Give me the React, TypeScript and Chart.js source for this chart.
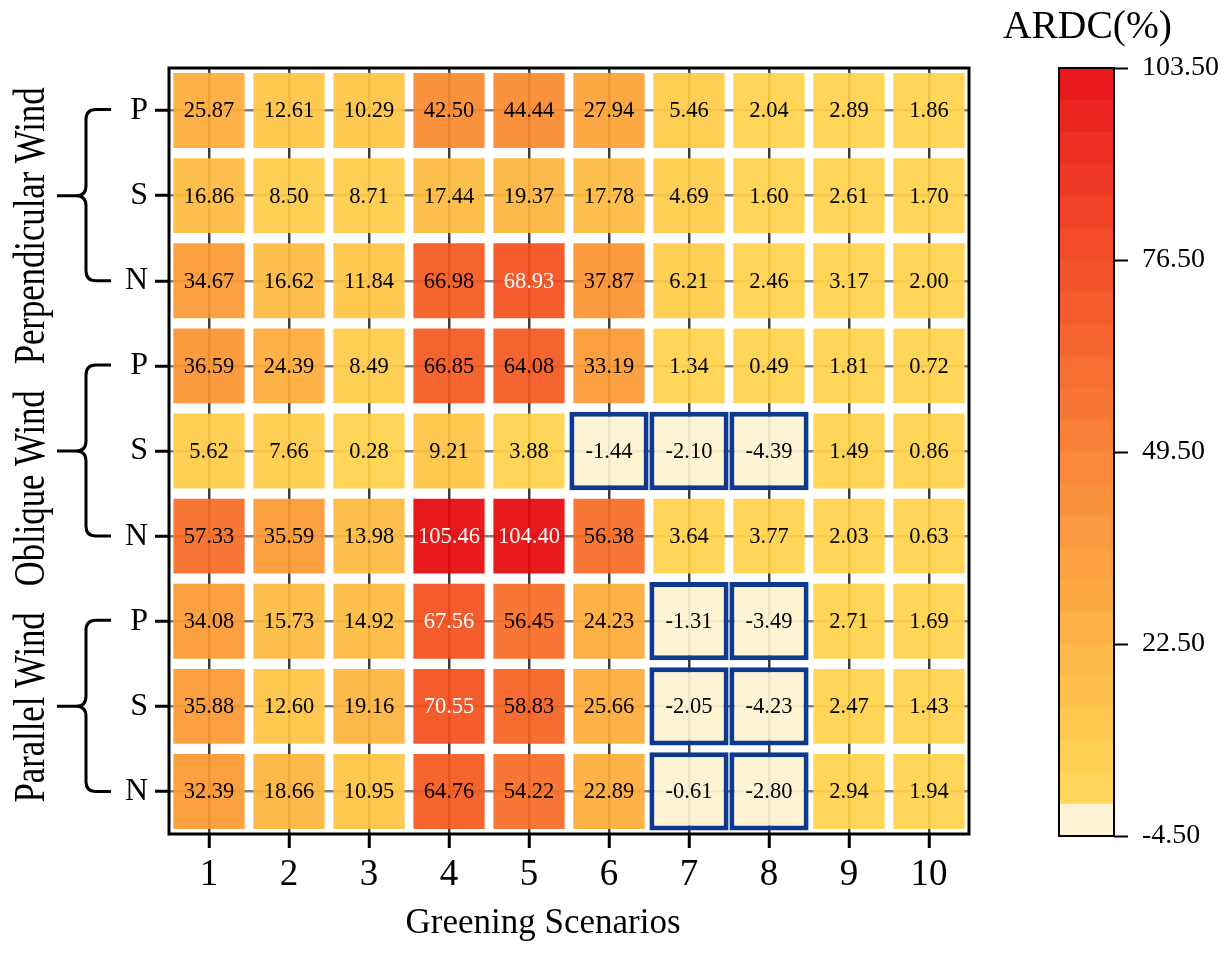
import React, { useEffect, useRef } from "react";
import { Chart, registerables } from "chart.js";
Chart.register(...registerables);

// ---------------- data ----------------
const SCENARIOS = ["1", "2", "3", "4", "5", "6", "7", "8", "9", "10"];
const ROW_LABELS = ["P", "S", "N", "P", "S", "N", "P", "S", "N"];
const GROUP_TITLES = ["Perpendicular Wind", "Oblique Wind", "Parallel Wind"];

const PERP_P = [25.87, 12.61, 10.29, 42.5, 44.44, 27.94, 5.46, 2.04, 2.89, 1.86];
const PERP_S = [16.86, 8.5, 8.71, 17.44, 19.37, 17.78, 4.69, 1.6, 2.61, 1.7];
const PERP_N = [34.67, 16.62, 11.84, 66.98, 68.93, 37.87, 6.21, 2.46, 3.17, 2.0];
const OBL_P = [36.59, 24.39, 8.49, 66.85, 64.08, 33.19, 1.34, 0.49, 1.81, 0.72];
const OBL_S = [5.62, 7.66, 0.28, 9.21, 3.88, -1.44, -2.1, -4.39, 1.49, 0.86];
const OBL_N = [57.33, 35.59, 13.98, 105.46, 104.4, 56.38, 3.64, 3.77, 2.03, 0.63];
const PAR_P = [34.08, 15.73, 14.92, 67.56, 56.45, 24.23, -1.31, -3.49, 2.71, 1.69];
const PAR_S = [35.88, 12.6, 19.16, 70.55, 58.83, 25.66, -2.05, -4.23, 2.47, 1.43];
const PAR_N = [32.39, 18.66, 10.95, 64.76, 54.22, 22.89, -0.61, -2.8, 2.94, 1.94];

const CB_MIN = -4.5;
const CB_MAX = 103.5;
const CB_STEP = 4.5;
const CB_TICKS = [-4.5, 22.5, 49.5, 76.5, 103.5];
const WHITE_TEXT_FROM = 67.5;

// ---------------- styles ----------------
const FONT = "'Liberation Serif', 'DejaVu Serif', serif";
const STOP_VALUES = [0, 22.5, 45, 67.5, 90, 103.5];
const STOP_COLORS = ["#FFDA5A", "#FDB548", "#FA8E3C", "#F5602E", "#EE3524", "#E8141D"];
const CREAM = "#FFF3D6";
const HIGHLIGHT = "#0D3A8E";
const CELL_ALPHA = 0.92;

function hexToRgb(h: string) {
  const n = parseInt(h.slice(1), 16);
  return [(n >> 16) & 255, (n >> 8) & 255, n & 255];
}
function interpColor(v: number): number[] {
  if (v <= STOP_VALUES[0]) return hexToRgb(STOP_COLORS[0]);
  for (let i = 1; i < STOP_VALUES.length; i++) {
    if (v <= STOP_VALUES[i]) {
      const t = (v - STOP_VALUES[i - 1]) / (STOP_VALUES[i] - STOP_VALUES[i - 1]);
      const a = hexToRgb(STOP_COLORS[i - 1]);
      const b = hexToRgb(STOP_COLORS[i]);
      return a.map((c, j) => c + (b[j] - c) * t);
    }
  }
  return hexToRgb(STOP_COLORS[STOP_COLORS.length - 1]);
}
const NBANDS = Math.round((CB_MAX - CB_MIN) / CB_STEP);
function bandIndex(v: number) {
  const k = Math.floor((v - CB_MIN) / CB_STEP);
  return Math.max(0, Math.min(NBANDS - 1, k));
}
function bandRgb(k: number): number[] {
  if (k === 0) return hexToRgb(CREAM);
  const mid = CB_MIN + k * CB_STEP + CB_STEP / 2;
  return interpColor(mid);
}
function rgbStr(c: number[]) {
  return `rgb(${c.map((x) => Math.round(x)).join(",")})`;
}
function alphaStr(c: number[]) {
  const pre = c.map((x) => Math.max(0, Math.min(255, (x - 255 * (1 - CELL_ALPHA)) / CELL_ALPHA)));
  return `rgba(${pre.map((x) => Math.round(x)).join(",")},${CELL_ALPHA})`;
}

const ROWS = [PERP_P, PERP_S, PERP_N, OBL_P, OBL_S, OBL_N, PAR_P, PAR_S, PAR_N];

function HeatMap() {
  const ref = useRef<HTMLCanvasElement>(null);
  useEffect(() => {
    const canvas = ref.current!;
    const highlightSets = ROWS.map((vals, r) => ({
      label: "hl" + r,
      data: vals.map((v) => (v < 0 ? [r - 0.46, r + 0.46] : null)),
      backgroundColor: alphaStr(hexToRgb(CREAM)),
      borderColor: HIGHLIGHT,
      borderWidth: 5,
      borderSkipped: false,
      barPercentage: 0.99,
      categoryPercentage: 1,
      grouped: false,
      order: 0,
    }));
    const cellSets = ROWS.map((vals, r) => ({
      label: "row" + r,
      data: vals.map((v) => (v < 0 ? null : [r - 0.44, r + 0.44])),
      backgroundColor: vals.map((v) => alphaStr(bandRgb(bandIndex(v)))),
      borderWidth: 0,
      barPercentage: 0.89,
      categoryPercentage: 1,
      grouped: false,
      order: 1,
    }));

    const decor = {
      id: "decor",
      afterDatasetsDraw(chart: any) {
        const ctx = chart.ctx;
        ctx.save();
        ctx.font = `22.5px ${FONT}`;
        ctx.textAlign = "center";
        ctx.textBaseline = "middle";
        ROWS.forEach((vals, r) => {
          const metaCell = chart.getDatasetMeta(highlightSets.length + r);
          const metaHl = chart.getDatasetMeta(r);
          vals.forEach((v, c) => {
            const el = v < 0 ? metaHl.data[c] : metaCell.data[c];
            if (!el) return;
            const y = (el.y + el.base) / 2;
            ctx.fillStyle = v >= WHITE_TEXT_FROM ? "#ffffff" : "#000000";
            ctx.fillText(v.toFixed(2), el.x, y + 1);
          });
        });
        ctx.restore();
      },
      afterDraw(chart: any) {
        const ctx = chart.ctx;
        const a = chart.chartArea;
        const ys = chart.scales.y;
        ctx.save();
        // frame
        ctx.strokeStyle = "#000";
        ctx.lineWidth = 3;
        ctx.strokeRect(a.left, a.top, a.right - a.left, a.bottom - a.top);
        // braces
        ctx.lineWidth = 3;
        ctx.lineCap = "butt";
        const xr = 111, xv = 86, xt = 57, rr = 10;
        for (let g = 0; g < GROUP_TITLES.length; g++) {
          const yt = ys.getPixelForValue(g * 3) - 1;
          const ym = ys.getPixelForValue(g * 3 + 1);
          const yb = ys.getPixelForValue(g * 3 + 2);
          ctx.beginPath();
          ctx.moveTo(xr, yt);
          ctx.lineTo(xv + rr, yt);
          ctx.quadraticCurveTo(xv, yt, xv, yt + rr);
          ctx.lineTo(xv, ym - rr);
          ctx.quadraticCurveTo(xv, ym, xv - rr, ym);
          ctx.lineTo(xt, ym);
          ctx.moveTo(xv - rr, ym);
          ctx.quadraticCurveTo(xv, ym, xv, ym + rr);
          ctx.lineTo(xv, yb - rr);
          ctx.quadraticCurveTo(xv, yb, xv + rr, yb);
          ctx.lineTo(xr, yb);
          ctx.stroke();
        }
        // group titles (rotated)
        ctx.fillStyle = "#000";
        ctx.font = `44px ${FONT}`;
        ctx.textAlign = "center";
        ctx.textBaseline = "alphabetic";
        ctx.translate(44, (a.top + a.bottom) / 2 - 6);
        ctx.rotate(-Math.PI / 2);
        const str = GROUP_TITLES.slice().reverse().join("   ");
        ctx.fillText(str, 0, 0, 715);
        ctx.restore();
        // x title
        ctx.save();
        ctx.fillStyle = "#000";
        ctx.font = `35px ${FONT}`;
        ctx.textAlign = "center";
        ctx.textBaseline = "alphabetic";
        ctx.fillText("Greening Scenarios", 543, 933);
        ctx.restore();
      },
    };

    const chart = new Chart(canvas, {
      type: "bar",
      data: { labels: SCENARIOS, datasets: [...highlightSets, ...cellSets] as any },
      options: {
        responsive: false,
        animation: false,
        devicePixelRatio: 1,
        layout: { padding: { top: 68, right: 31, left: 0, bottom: 0 } },
        plugins: { legend: { display: false }, tooltip: { enabled: false } },
        scales: {
          x: {
            type: "category",
            offset: true,
            afterFit: (s: any) => {
              s.height = 124;
            },
            grid: {
              offset: false,
              color: "#3c3c3c",
              lineWidth: 2.5,
              drawTicks: true,
              tickLength: 14,
              tickColor: "#000",
              tickWidth: 3,
            },
            border: { display: false },
            ticks: { color: "#000", font: { family: FONT, size: 37 }, padding: 5, maxRotation: 0 },
          },
          y: {
            type: "linear",
            min: -0.5,
            max: 8.5,
            reverse: true,
            afterFit: (s: any) => {
              s.width = 169;
            },
            afterBuildTicks: (s: any) => {
              s.ticks = ROW_LABELS.map((_, i) => ({ value: i }));
            },
            grid: {
              color: "#808080",
              lineWidth: 2.5,
              drawTicks: true,
              tickLength: 14,
              tickColor: "#000",
              tickWidth: 3,
            },
            border: { display: false },
            ticks: {
              color: "#000",
              font: { family: FONT, size: 32 },
              padding: 7,
              callback: (v: any) => ROW_LABELS[v as number] ?? "",
            },
          },
        },
      },
      plugins: [decor],
    });
    return () => chart.destroy();
  }, []);
  return <canvas ref={ref} width={1000} height={958} style={{ position: "absolute", left: 0, top: 0, width: 1000, height: 958 }} />;
}

function ColorBar() {
  const ref = useRef<HTMLCanvasElement>(null);
  useEffect(() => {
    const canvas = ref.current!;
    const bands = Array.from({ length: NBANDS }, (_, k) => k);
    const datasets = bands.map((k) => ({
      label: "b" + k,
      data: [[CB_MIN + k * CB_STEP, CB_MIN + (k + 1) * CB_STEP]],
      backgroundColor: rgbStr(bandRgb(k)),
      borderWidth: 0,
      barPercentage: 1,
      categoryPercentage: 1,
      grouped: false,
    }));
    const deco = {
      id: "cbdeco",
      afterDraw(chart: any) {
        const ctx = chart.ctx;
        const a = chart.chartArea;
        ctx.save();
        ctx.strokeStyle = "#000";
        ctx.lineWidth = 2;
        ctx.strokeRect(a.left, a.top, a.right - a.left, a.bottom - a.top);
        ctx.fillStyle = "#000";
        ctx.font = `39.5px ${FONT}`;
        ctx.textAlign = "left";
        ctx.textBaseline = "alphabetic";
        ctx.fillText("ARDC(%)", 3, 38);
        ctx.restore();
      },
    };
    const chart = new Chart(canvas, {
      type: "bar",
      data: { labels: [""], datasets: datasets as any },
      options: {
        responsive: false,
        animation: false,
        devicePixelRatio: 1,
        layout: { padding: { top: 68, right: 0, left: 59, bottom: 122 } },
        plugins: { legend: { display: false }, tooltip: { enabled: false } },
        scales: {
          x: { display: false, offset: true },
          y: {
            type: "linear",
            position: "right",
            min: CB_MIN,
            max: CB_MAX,
            afterFit: (s: any) => {
              s.width = 112;
            },
            afterBuildTicks: (s: any) => {
              s.ticks = CB_TICKS.map((v) => ({ value: v }));
            },
            grid: {
              drawOnChartArea: false,
              drawTicks: true,
              tickLength: 14,
              tickColor: "#000",
              tickWidth: 2,
            },
            border: { display: false },
            ticks: {
              color: "#000",
              font: { family: FONT, size: 28 },
              padding: 14,
              callback: (v: any) => Number(v).toFixed(2),
            },
          },
        },
      },
      plugins: [deco],
    });
    return () => chart.destroy();
  }, []);
  return <canvas ref={ref} width={226} height={958} style={{ position: "absolute", left: 1000, top: 0, width: 226, height: 958 }} />;
}

export default function App() {
  return (
    <div style={{ position: "absolute", left: 0, top: 0, width: 1226, height: 958, background: "#fff" }}>
      <HeatMap />
      <ColorBar />
    </div>
  );
}
